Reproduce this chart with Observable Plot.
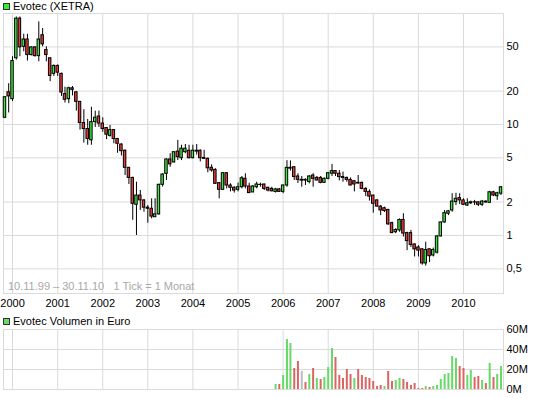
<!DOCTYPE html>
<html><head><meta charset="utf-8">
<script src="https://cdn.jsdelivr.net/npm/d3@7"></script>
<script src="https://cdn.jsdelivr.net/npm/@observablehq/plot@0.6"></script>
<style>
body{margin:0;background:#fff;font-family:"Liberation Sans",Arial,sans-serif;}
#wrap{position:relative;width:545px;height:398px;overflow:hidden;background:#fff}
#wrap svg{display:block}
.leg{position:absolute;left:13px;font-size:11px;color:#000;line-height:13px;white-space:nowrap}
.sq{position:absolute;left:3px;width:5px;height:5px;border:1px solid #333}
.info{position:absolute;left:8px;top:280px;font-size:11px;line-height:13px;color:#a8a8a8;white-space:pre}
</style></head>
<body><div id="wrap"></div>
<script>
// Monthly candles Nov 1999 .. Nov 2010 (Evotec, XETRA)
const firstMonth = "1999-11-01", lastMonth = "2010-11-01";
const open = [11.5,19.5,16.9,39.5,89.9,50.1,58.3,42.2,49.5,41.3,63.7,46.8,39.5,28.6,33.7,28.6,18.8,16.9,21.2,19.5,16.0,10.3,9.1,7.2,10.5,11.8,10.2,9.3,7.9,8.9,7.4,6.6,5.8,4.07,3.3,1.89,2.29,2.07,1.78,1.74,1.46,1.55,2.86,3.59,4.84,4.55,5.7,4.97,5.63,5.8,4.97,5.8,5.8,5.0,4.9,4.07,3.9,2.96,2.58,3.64,2.82,2.69,2.58,2.72,3.24,2.76,2.44,2.72,2.85,2.88,2.69,2.63,2.47,2.6,2.47,2.82,4.07,4.12,3.4,3.17,3.12,3.03,3.47,3.3,3.3,2.98,3.24,3.6,3.8,3.6,3.36,3.3,3.17,3.08,2.98,2.98,2.63,2.47,2.29,2.07,1.82,1.76,1.70,1.29,1.07,1.11,1.38,1.05,1.05,0.83,0.78,0.75,0.56,0.75,0.66,0.70,0.98,1.31,1.57,1.68,2.0,2.17,2.07,1.86,1.95,1.99,1.99,1.89,1.98,1.97,2.45,2.26,2.38];
const high = [17.8,23.3,40.8,93,93,65,65,50,50,84,73.2,50.1,39.8,34.4,34.4,29,21.7,21.7,22,19.6,16.1,13.6,11.1,14.3,13.2,13.2,11.5,9.4,9.8,9.0,7.5,6.7,5.9,4.1,3.35,3.02,2.54,2.1,1.86,2.14,2.14,2.9,3.6,4.9,5.45,5.65,7.2,6.5,6.6,6.5,6.5,6.6,5.9,5.85,5.0,4.33,4.0,3.0,3.66,3.66,2.92,2.75,2.97,3.4,3.6,2.96,2.82,3.02,2.96,2.9,2.72,2.72,2.66,2.65,2.85,4.72,4.7,4.15,3.6,3.4,3.24,3.47,3.6,3.4,3.4,3.3,3.7,4.37,3.85,3.85,3.72,3.36,3.3,3.13,3.47,3.02,2.69,2.58,2.3,2.1,1.86,1.8,1.72,1.32,1.15,1.41,1.57,1.07,1.11,0.84,0.81,0.76,0.87,0.76,0.77,1.0,1.32,1.68,1.68,2.38,2.4,2.38,2.14,2.14,2.04,2.07,2.0,2.07,2.05,2.5,2.5,2.45,2.76];
const low = [11.3,12.7,16.1,38.1,40.8,45.2,37.3,41.5,40.5,36.7,50.1,36.7,24.3,27.1,27.1,17.9,15.6,15.4,18.1,13.2,8.9,6.8,6.5,6.5,9.4,9.4,8.5,7.3,7.7,6.7,5.5,5.2,3.47,2.88,1.37,1.0,1.68,1.62,1.29,1.41,1.46,1.52,2.73,3.13,4.12,4.5,4.73,4.73,5.45,4.9,4.9,5.3,4.6,4.85,3.67,3.72,2.88,2.14,2.55,2.63,2.47,2.41,2.47,2.63,2.63,2.38,2.44,2.63,2.72,2.54,2.47,2.47,2.41,2.44,2.38,2.72,3.8,3.13,2.94,2.72,2.82,2.92,2.72,3.1,2.92,2.94,3.17,3.4,3.4,3.1,3.02,3.02,2.8,2.47,2.9,2.58,2.24,2.04,1.59,1.8,1.51,1.61,1.23,1.04,1.04,1.07,0.97,0.73,0.78,0.64,0.64,0.54,0.53,0.57,0.64,0.68,0.97,1.29,1.51,1.62,1.86,1.9,1.86,1.82,1.9,1.86,1.82,1.82,1.96,1.95,2.24,2.07,2.29];
const close = [17.6,17.9,37.3,89.9,49.5,58.3,42.2,49.5,41.3,58.3,52.7,42.2,27.4,33.7,29.3,19.4,16.7,21.2,20.5,16.0,10.3,9.1,7.4,10.5,11.5,10.2,9.1,8.1,8.9,7.4,6.7,5.75,4.07,3.3,1.93,2.29,2.07,1.78,1.74,1.48,1.55,2.86,3.54,4.84,4.37,5.63,5.07,6.05,6.05,4.97,5.8,5.7,4.97,4.9,4.03,3.85,2.92,2.58,3.64,2.82,2.69,2.54,2.72,3.28,2.76,2.41,2.76,2.88,2.86,2.63,2.54,2.5,2.6,2.47,2.82,4.07,4.0,3.36,3.17,3.12,3.17,3.4,3.24,3.13,2.98,3.24,3.64,3.8,3.6,3.36,3.3,3.17,2.82,2.88,2.94,2.63,2.47,2.24,1.93,1.82,1.68,1.66,1.26,1.05,1.12,1.38,1.04,0.89,0.82,0.75,0.73,0.56,0.74,0.65,0.74,0.98,1.31,1.59,1.65,2.02,2.14,2.07,1.89,1.95,1.99,1.98,1.89,2.02,2.02,2.45,2.29,2.4,2.72];

// Monthly volume in million euro, Nov 2005 .. Nov 2010
const volFirstMonth = "2005-11-01";
const volume = [5,5,14,50,46,21,28,18,7,15,21,11,10,12,22,41,32,14,11,20,15,11,20,14,12,11,8,3,4,3,18,8,9,11,10,7,4,6,1,1,3,2,3,4,10,15,16,33,31,23,21,14,19,12,13,9,6,26,12,15,23];
const volDir = ["u","d","u","u","u","d","d","n","d","u","d","u","d","u","u","u","d","d","d","d","d","u","d","d","d","d","d","d","d","u","d","d","u","u","d","d","d","d","d","d","u","d","u","u","u","u","u","u","u","d","d","u","u","d","d","u","d","u","d","u","u"];

const yearTicks = [2000,2001,2002,2003,2004,2005,2006,2007,2008,2009,2010];
const priceTicks = [0.5,1,2,5,10,20,50];
const volTicks = [0,20,40,60];

const title = "Evotec (XETRA)";
const volTitle = "Evotec Volumen in Euro";
const info = "10.11.99 \u2013 30.11.10   1 Tick = 1 Monat";

const months = d3.utcMonth.range(new Date(firstMonth), d3.utcMonth.offset(new Date(lastMonth), 1));
const candles = months.map((date, i) => ({date, open: open[i], high: high[i], low: low[i], close: close[i]}));
const volMonths = d3.utcMonth.range(new Date(volFirstMonth), d3.utcMonth.offset(new Date(lastMonth), 1));
const vols = volMonths.map((date, i) => ({date, v: volume[i], dir: volDir[i]}));
const yearDates = yearTicks.map(y => new Date(Date.UTC(y, 0, 1)));

const xDomain = [new Date(Date.UTC(1999, 9, 20)), new Date(Date.UTC(2010, 10, 21))];
const GRID = "#dadada";
const GREEN = "#3ce63c", RED = "#e63c3c";
const VGREEN = "#66d966", VRED = "#dc6464", VGREY = "#bcbcbc";
const font = {fontSize: "11px", fontFamily: "'Liberation Sans', Arial, sans-serif", background: "transparent", overflow: "visible"};

const main = Plot.plot({
  width: 545, height: 312,
  marginLeft: 3, marginRight: 42, marginTop: 13, marginBottom: 19,
  style: font,
  x: {type: "utc", domain: xDomain, axis: null},
  y: {type: "log", domain: [0.3, 100], axis: null},
  marks: [
    Plot.gridX(yearDates, {stroke: GRID, strokeOpacity: 1}),
    Plot.gridY(priceTicks, {stroke: GRID, strokeOpacity: 1}),
    Plot.frame({stroke: GRID}),
    Plot.text(yearDates, {x: d => d, frameAnchor: "bottom", dy: 10, lineAnchor: "middle", text: d3.utcFormat("%Y"), fill: "#000"}),
    Plot.text(priceTicks, {y: d => d, frameAnchor: "right", dx: 3, textAnchor: "start", text: d => String(d).replace(".", ","), fill: "#000"}),
    Plot.ruleX(candles, {x: "date", y1: "low", y2: "high", stroke: "#000", strokeWidth: 1}),
    Plot.rect(candles, {
      x1: d => d3.utcDay.offset(d.date, -10), x2: d => d3.utcDay.offset(d.date, 10),
      y1: "open", y2: "close",
      fill: d => d.close >= d.open ? GREEN : RED,
      stroke: "#000", strokeWidth: 1
    })
  ]
});

const vol = Plot.plot({
  width: 545, height: 86,
  marginLeft: 3, marginRight: 42, marginTop: 17, marginBottom: 9,
  style: font,
  x: {type: "utc", domain: xDomain, axis: null},
  y: {domain: [0, 60], axis: null},
  marks: [
    Plot.gridX(yearDates, {stroke: GRID, strokeOpacity: 1}),
    Plot.gridY(volTicks, {stroke: GRID, strokeOpacity: 1}),
    Plot.frame({stroke: GRID}),
    Plot.text(volTicks, {y: d => d, frameAnchor: "right", dx: 3, textAnchor: "start", text: d => d + "M", fill: "#000"}),
    Plot.ruleX(vols, {x: "date", y1: 0, y2: "v", strokeWidth: 2,
      stroke: d => d.dir === "u" ? VGREEN : d.dir === "d" ? VRED : VGREY})
  ]
});

const wrap = document.getElementById("wrap");
wrap.appendChild(main);
wrap.appendChild(vol);

function legend(text, top, color) {
  const sq = document.createElement("div");
  sq.className = "sq"; sq.style.top = (top + 3) + "px"; sq.style.background = color;
  const t = document.createElement("div");
  t.className = "leg"; t.style.top = top + "px"; t.textContent = text;
  wrap.appendChild(sq); wrap.appendChild(t);
}
legend(title, 0, "#33ee33");
legend(volTitle, 315, "#66d966");
const inf = document.createElement("div");
inf.className = "info"; inf.textContent = info;
wrap.appendChild(inf);
</script>
</body></html>
